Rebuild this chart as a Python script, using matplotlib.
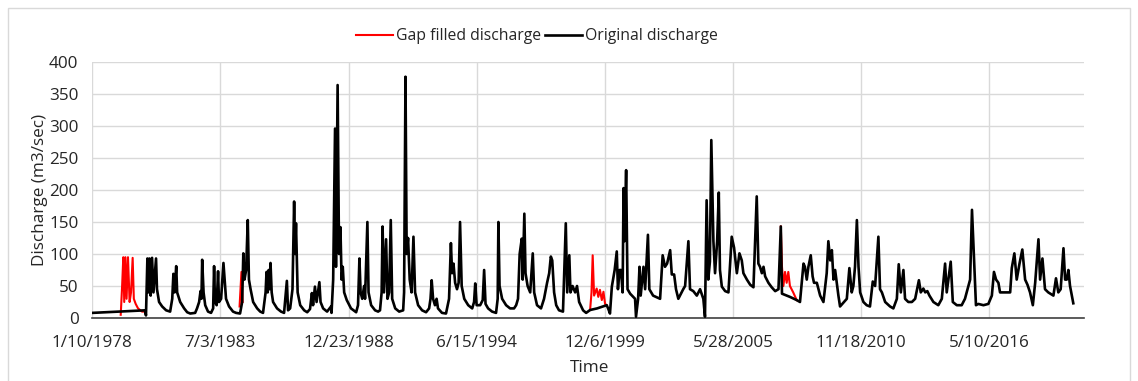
import datetime as dt

import numpy as np
import matplotlib
matplotlib.use("Agg")
from matplotlib import pyplot as plt
from matplotlib.patches import Rectangle

# decimal year / discharge (m3/sec)
orig_years = [
    1978.03, 1980.28, 1980.32, 1980.38, 1980.42, 1980.47, 1980.52, 1980.58, 1980.64, 1980.75,
    1980.79, 1980.88, 1981.01, 1981.18, 1981.35, 1981.44, 1981.49, 1981.54, 1981.61, 1981.65,
    1981.78, 1981.95, 1982.08, 1982.21, 1982.42, 1982.50, 1982.59, 1982.65, 1982.69, 1982.72,
    1982.78, 1982.85, 1982.97, 1983.10, 1983.19, 1983.23, 1983.27, 1983.34, 1983.40, 1983.44,
    1983.53, 1983.63, 1983.68, 1983.74, 1983.87, 1984.04, 1984.17, 1984.34, 1984.43, 1984.48,
    1984.53, 1984.60, 1984.67, 1984.72, 1984.79, 1984.90, 1985.07, 1985.20, 1985.32, 1985.43,
    1985.47, 1985.52, 1985.56, 1985.60, 1985.64, 1985.69, 1985.75, 1985.92, 1986.09, 1986.22,
    1986.34, 1986.39, 1986.48, 1986.58, 1986.65, 1986.69, 1986.73, 1986.80, 1986.91, 1987.08,
    1987.21, 1987.33, 1987.41, 1987.46, 1987.54, 1987.61, 1987.73, 1987.78, 1987.89, 1988.06,
    1988.23, 1988.25, 1988.32, 1988.40, 1988.44, 1988.51, 1988.57, 1988.63, 1988.68, 1988.73,
    1988.79, 1988.90, 1989.08, 1989.30, 1989.38, 1989.44, 1989.49, 1989.56, 1989.64, 1989.68,
    1989.78, 1989.83, 1989.94, 1990.11, 1990.24, 1990.32, 1990.39, 1990.43, 1990.49, 1990.58,
    1990.64, 1990.71, 1990.78, 1990.84, 1990.97, 1991.14, 1991.31, 1991.35, 1991.41, 1991.46,
    1991.52, 1991.59, 1991.67, 1991.75, 1991.82, 1991.95, 1992.12, 1992.29, 1992.42, 1992.48,
    1992.53, 1992.59, 1992.67, 1992.74, 1992.80, 1992.97, 1993.14, 1993.27, 1993.35, 1993.40,
    1993.46, 1993.53, 1993.61, 1993.68, 1993.74, 1993.81, 1993.92, 1994.09, 1994.26, 1994.34,
    1994.39, 1994.45, 1994.53, 1994.60, 1994.71, 1994.77, 1994.83, 1994.94, 1995.11, 1995.28,
    1995.35, 1995.38, 1995.43, 1995.54, 1995.71, 1995.88, 1996.05, 1996.14, 1996.22, 1996.29,
    1996.38, 1996.42, 1996.49, 1996.54, 1996.63, 1996.74, 1996.85, 1996.91, 1997.03, 1997.20,
    1997.33, 1997.46, 1997.55, 1997.62, 1997.68, 1997.76, 1997.85, 1997.97, 1998.14, 1998.26,
    1998.32, 1998.41, 1998.46, 1998.55, 1998.66, 1998.74, 1998.83, 1999.00, 1999.13, 1999.30,
    1999.60, 1999.85, 2000.01, 2000.07, 2000.15, 2000.23, 2000.28, 2000.35, 2000.44, 2000.49,
    2000.56, 2000.62, 2000.69, 2000.73, 2000.77, 2000.84, 2000.90, 2001.01, 2001.22, 2001.26,
    2001.35, 2001.41, 2001.46, 2001.58, 2001.65, 2001.77, 2001.83, 2001.99, 2002.29, 2002.40,
    2002.50, 2002.59, 2002.72, 2002.79, 2002.89, 2002.97, 2003.07, 2003.28, 2003.36, 2003.50,
    2003.57, 2003.71, 2003.86, 2004.00, 2004.14, 2004.21, 2004.28, 2004.35, 2004.42, 2004.48,
    2004.57, 2004.64, 2004.73, 2004.80, 2004.85, 2004.93, 2005.07, 2005.21, 2005.28, 2005.35,
    2005.45, 2005.57, 2005.68, 2005.78, 2005.85, 2006.00, 2006.14, 2006.28, 2006.42, 2006.49,
    2006.56, 2006.64, 2006.71, 2006.78, 2006.92, 2007.06, 2007.21, 2007.35, 2007.45, 2007.50,
    2007.84, 2008.13, 2008.27, 2008.42, 2008.48, 2008.56, 2008.63, 2008.73, 2008.81, 2008.87,
    2008.99, 2009.13, 2009.27, 2009.41, 2009.48, 2009.56, 2009.63, 2009.70, 2009.77, 2009.91,
    2009.98, 2010.27, 2010.38, 2010.48, 2010.55, 2010.62, 2010.70, 2010.77, 2010.84, 2010.98,
    2011.12, 2011.26, 2011.38, 2011.48, 2011.62, 2011.69, 2011.77, 2011.91, 2012.12, 2012.26,
    2012.41, 2012.49, 2012.58, 2012.69, 2012.76, 2012.90, 2013.05, 2013.19, 2013.35, 2013.43,
    2013.54, 2013.62, 2013.71, 2013.80, 2013.97, 2014.18, 2014.33, 2014.47, 2014.54, 2014.71,
    2014.80, 2014.97, 2015.18, 2015.32, 2015.54, 2015.62, 2015.72, 2015.79, 2015.89, 2016.11,
    2016.32, 2016.47, 2016.56, 2016.65, 2016.75, 2016.82, 2016.96, 2017.25, 2017.32, 2017.43,
    2017.53, 2017.65, 2017.77, 2017.89, 2017.99, 2018.10, 2018.22, 2018.32, 2018.46, 2018.53,
    2018.63, 2018.74, 2018.88, 2019.10, 2019.21, 2019.31, 2019.41, 2019.53, 2019.60, 2019.67,
    2019.74, 2019.81, 2019.95,
]
orig_q = [
    8, 12, 4, 93, 40, 93, 35, 94, 40, 93,
    45, 25, 18, 12, 10, 30, 69, 40, 81, 40,
    25, 15, 9, 7, 8, 15, 25, 42, 30, 91,
    40, 20, 10, 8, 15, 81, 25, 20, 73, 25,
    30, 86, 60, 30, 18, 10, 8, 7, 25, 101,
    60, 75, 153, 60, 45, 25, 15, 10, 8, 40,
    72, 40, 75, 45, 86, 40, 25, 15, 10, 8,
    58, 12, 15, 45, 182, 100, 148, 40, 20, 12,
    9, 14, 39, 20, 49, 25, 56, 25, 15, 10,
    18, 8, 60, 296, 80, 364, 100, 142, 60, 80,
    40, 28, 15, 9, 20, 93, 40, 30, 50, 30,
    150, 40, 20, 12, 10, 12, 40, 143, 40, 123,
    30, 40, 153, 30, 15, 10, 12, 40, 377, 100,
    125, 60, 40, 127, 40, 20, 12, 9, 15, 30,
    59, 30, 20, 30, 15, 8, 7, 30, 117, 70,
    85, 55, 45, 55, 150, 50, 30, 20, 15, 25,
    54, 20, 20, 20, 28, 75, 22, 15, 10, 8,
    30, 150, 50, 30, 20, 15, 15, 20, 30, 100,
    124, 60, 163, 70, 50, 40, 101, 40, 20, 15,
    30, 55, 70, 96, 90, 40, 20, 12, 10, 148,
    40, 98, 40, 50, 40, 50, 25, 12, 8, 12.5,
    15, 18, 20, 15, 7, 49, 60, 75, 104, 45,
    75, 75, 40, 203, 120, 231, 45, 38, 30, 2,
    30, 80, 35, 80, 45, 130, 45, 35, 30, 98,
    80, 85, 106, 68, 68, 45, 30, 45, 50, 120,
    45, 42, 35, 45, 30, 2, 184, 60, 88, 278,
    120, 70, 120, 196, 75, 49, 42, 40, 85, 127,
    110, 70, 101, 90, 70, 60, 52, 48, 190, 85,
    80, 70, 80, 65, 55, 48, 42, 45, 143, 38,
    33, 28, 25, 85, 80, 60, 80, 98, 65, 55,
    55, 35, 25, 70, 120, 90, 106, 60, 75, 35,
    18, 30, 78, 40, 50, 80, 153, 80, 40, 25,
    20, 18, 57, 50, 127, 45, 40, 25, 18, 15,
    30, 84, 40, 75, 30, 25, 25, 30, 59, 40,
    46, 40, 42, 35, 25, 20, 30, 85, 40, 88,
    25, 20, 20, 30, 60, 169, 80, 20, 22, 20,
    22, 35, 72, 60, 55, 40, 40, 40, 78, 101,
    60, 85, 107, 60, 52, 40, 20, 55, 123, 60,
    93, 45, 40, 35, 62, 40, 45, 109, 60, 60,
    75, 50, 23,
]

# gap filled stretches
gap_1979_years = [1979.24, 1979.30, 1979.35, 1979.39, 1979.44, 1979.49, 1979.55, 1979.62,
                  1979.68, 1979.75, 1979.80, 1979.88, 1979.98, 1980.15, 1980.28]
gap_1979_q = [5, 50, 95, 25, 95, 30, 95, 25, 40, 94, 30, 22, 15, 10, 10]
gap_1984_years = [1984.32, 1984.40, 1984.45]
gap_1984_q = [18, 72, 25]
gap_1999_years = [1999.30, 1999.36, 1999.41, 1999.47, 1999.58, 1999.65, 1999.72, 1999.80,
                  1999.87, 1999.94, 2000.01]
gap_1999_q = [12.5, 40, 98, 35, 46, 33, 44, 28, 41, 22, 20]
gap_2007_years = [2007.45, 2007.50, 2007.56, 2007.63, 2007.70, 2007.77, 2007.84, 2007.98, 2008.13]
gap_2007_q = [143, 80, 50, 72, 55, 72, 50, 40, 28]


def to_date(year):
    base = dt.datetime(int(year), 1, 1)
    return base + dt.timedelta(days=(year - int(year)) * 365.25)


START = dt.datetime(1978, 1, 10)
tick_dates = [START + dt.timedelta(days=2000 * i) for i in range(8)]
TEXT = '#262626'

plt.rcParams['font.family'] = ['Open Sans', 'DejaVu Sans']

fig = plt.figure(figsize=(11.38, 3.81), dpi=100)
ax = fig.add_axes([92.3 / 1138, 1 - 318 / 381, (1084 - 92.3) / 1138, 256 / 381])

gap_x, gap_y = [], []
for yrs, q in [(gap_1979_years, gap_1979_q), (gap_1984_years, gap_1984_q),
               (gap_1999_years, gap_1999_q), (gap_2007_years, gap_2007_q)]:
    gap_x += [to_date(y) for y in yrs] + [to_date(yrs[-1])]
    gap_y += list(q) + [np.nan]

ax.plot(gap_x, gap_y, color='#ff0000', lw=1.5, label='Gap filled discharge', zorder=2)
ax.plot([to_date(y) for y in orig_years], orig_q, color='black', lw=1.9,
        label='Original discharge', zorder=3)

ax.set_ylim(0, 400)
ax.set_yticks(range(0, 401, 50))
ax.set_xlim(START, START + dt.timedelta(days=15480))
ax.set_xticks(tick_dates)
ax.set_xticklabels([f"{d.month}/{d.day}/{d.year}" for d in tick_dates])

ax.grid(True, color='#d9d9d9', lw=1)
ax.set_axisbelow(True)
for side in ['top', 'right', 'left']:
    ax.spines[side].set_visible(False)
ax.spines['bottom'].set_color('#404040')
ax.spines['bottom'].set_linewidth(1.2)
ax.tick_params(length=0, labelsize=12.3, colors=TEXT)
ax.tick_params(axis='x', pad=12)
ax.tick_params(axis='y', pad=10)

fig.text(40 / 1138, 1 - 190 / 381, 'Discharge (m3/sec)', rotation=90, ha='center', va='center',
         fontsize=12.3, color=TEXT)
fig.text(590 / 1138, 1 - 368 / 381, 'Time', ha='center', va='center',
         fontsize=12.3, color=TEXT)

fig.legend(loc='center', bbox_to_anchor=(537 / 1138, 1 - 36 / 381), ncol=2, frameon=False,
           fontsize=11.3, handlelength=2.3, handletextpad=0.2, columnspacing=0.3,
           labelcolor=TEXT)

fig.patches.append(Rectangle((8 / 1138, -0.1), 1122 / 1138, 1.1 - 8 / 381, transform=fig.transFigure,
                             fill=False, edgecolor='#d9d9d9', lw=1))

fig.savefig('out.png', dpi=100)
